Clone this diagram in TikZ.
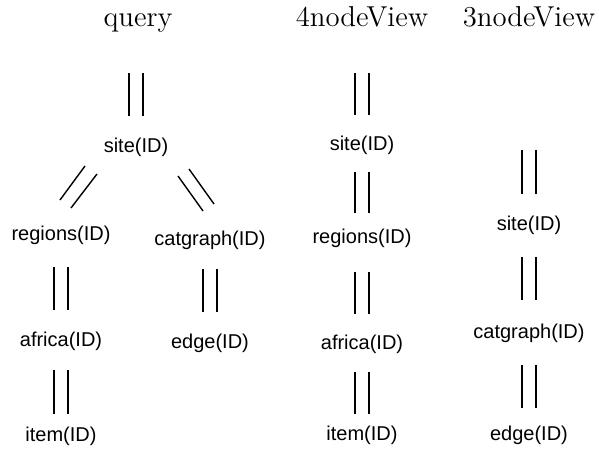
\documentclass[tikz,border=0pt]{standalone}
\usepackage{fontspec}
\setsansfont{Liberation Sans}
\usepackage{tikz}
\usetikzlibrary{positioning}
\tikzset{
  viewtitle/.style={font=\Large,anchor=base,inner sep=0pt},
  relnode/.style={font=\sffamily,inner sep=0pt,text height=7.6pt,text depth=2.2pt},
  dbl/.style={draw=black,line width=0.7pt,double,double distance=6.3pt},
  rail/.style={draw=black,line width=0.7pt},
}

\begin{document}
\begin{tikzpicture}[x=0.5pt,y=-0.5pt,on grid]
\useasboundingbox (0,0) rectangle (599,453);

% --- view titles ---
\node[viewtitle] (qtitle) at (138,27) {query};
\node[viewtitle] (ftitle) at (362,27) {4nodeView};
\node[viewtitle] (ttitle) at (529,27) {3nodeView};

% --- query tree ---
\node[relnode] (qsite) at (136,147) {site(ID)};
\node[relnode, below=44pt of qsite, xshift=-37.5pt] (qreg)  {regions(ID)};
\node[relnode, below=46.5pt of qsite, xshift=37pt]  (qcat)  {catgraph(ID)};
\node[relnode, below=53pt of qreg]   (qafr)  {africa(ID)};
\node[relnode, below=51.5pt of qcat] (qedge) {edge(ID)};
\node[relnode, below=47.5pt of qafr] (qitem) {item(ID)};
\coordinate[above=37pt of qsite] (qtop);

% --- 4nodeView ---
\node[relnode] (fsite) at (362,145) {site(ID)};
\node[relnode, below=46.5pt of fsite] (freg)  {regions(ID)};
\node[relnode, below=53pt of freg]    (fafr)  {africa(ID)};
\node[relnode, below=45.5pt of fafr]  (fitem) {item(ID)};
\coordinate[above=36pt of fsite] (ftop);

% --- 3nodeView ---
\node[relnode] (tsite) at (529,225) {site(ID)};
\node[relnode, below=54pt of tsite] (tcat)  {catgraph(ID)};
\node[relnode, below=51pt of tcat]  (tedge) {edge(ID)};
\coordinate[above=37.5pt of tsite] (ttop);

% --- double links ---
\foreach \a/\b/\s/\e in {qtop/qsite/0/10.6, qreg/qafr/11.1/10.6, qcat/qedge/9.6/10.6,
    qafr/qitem/9.6/6.1, ftop/fsite/0/10.1, fsite/freg/8.6/7.6, freg/fafr/12.1/10.1,
    fafr/fitem/9.1/5.6, ttop/tsite/0/10.6, tsite/tcat/11.1/11.6, tcat/tedge/11.1/8.6}
  \draw[dbl, shorten <=\s pt, shorten >=\e pt] (\a) -- (\b);

% --- slanted pairs under the query root ---
\draw[rail] ([shift={(-25.5pt,-9.5pt)}]qsite.center) -- ([shift={(-0.5pt,17.5pt)}]qreg.center);
\draw[rail] ([shift={(-19.5pt,-13.5pt)}]qsite.center) -- ([shift={(5pt,13.5pt)}]qreg.center);
\draw[rail] ([shift={(21pt,-14.5pt)}]qsite.center) -- ([shift={(-3.5pt,14.5pt)}]qcat.center);
\draw[rail] ([shift={(26.5pt,-11pt)}]qsite.center) -- ([shift={(2pt,18pt)}]qcat.center);

\end{tikzpicture}
\end{document}
